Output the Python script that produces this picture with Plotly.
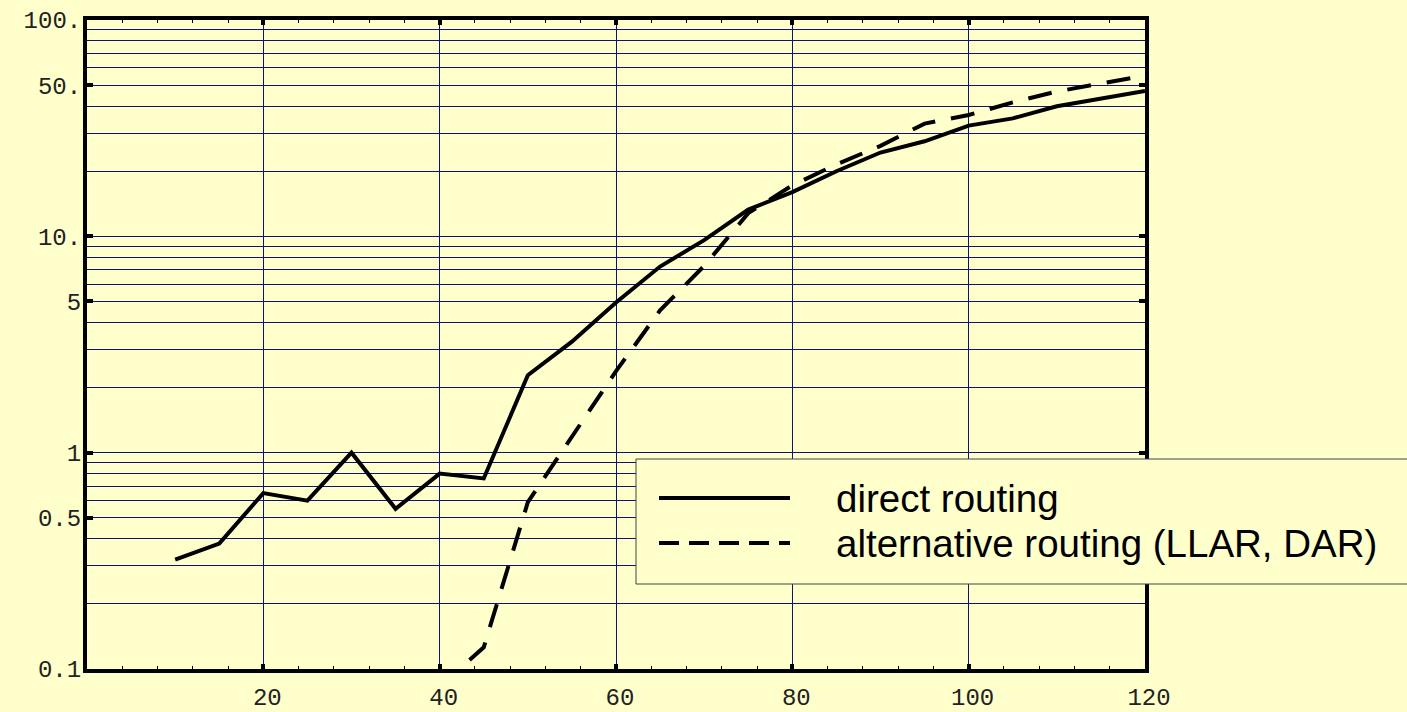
import plotly.graph_objects as go

# ---- data ----
x_direct = [10, 15, 20, 25, 30, 35, 40, 45, 50, 55, 60, 65, 70, 75, 80, 85, 90, 95, 100, 105, 110, 115, 120]
y_direct = [0.32, 0.38, 0.65, 0.60, 1.0, 0.55, 0.80, 0.76, 2.28, 3.26, 4.95, 7.25, 9.6, 13.3, 16.0, 20.0,
            24.4, 27.5, 32.5, 35.1, 39.9, 43.4, 47.0]

x_alt = [40, 45, 50, 55, 60, 65, 70, 75, 80, 85, 90, 95, 100, 105, 110, 115, 120]
y_alt = [0.083, 0.126, 0.59, 1.18, 2.38, 4.55, 7.3, 12.8, 17.2, 21.5, 26.2, 33.2, 36.4, 41.6, 46.7, 50.9, 55.3]

series_names = ["direct routing", "alternative routing (LLAR, DAR)"]

x_ticks = [20, 40, 60, 80, 100, 120]
x_ticktext = ["20", "40", "60", "80", "100", "120"]
y_ticks = [0.1, 0.5, 1, 5, 10, 50, 100]
y_ticktext = ["0.1", "0.5", "1", "5", "10.", "50.", "100."]
y_minor = [m * d for d in (0.1, 1, 10) for m in (2, 3, 4, 6, 7, 8, 9)]

BG = "#FFFFCC"
GRID = "#10107a"
TICKFONT = dict(family="Liberation Mono, DejaVu Sans Mono, monospace", size=24, color="#222222")

fig = go.Figure()
fig.add_trace(go.Scatter(x=x_direct, y=y_direct, mode="lines", name=series_names[0],
                         line=dict(color="black", width=4), showlegend=False))
fig.add_trace(go.Scatter(x=x_alt, y=y_alt, mode="lines", name=series_names[1],
                         line=dict(color="black", width=4, dash="24px,16px"), showlegend=False))

L, R, T, B = 87, 262, 20, 43
W, H = 1407, 712
pw, ph = W - L - R, H - T - B


def px(xp):
    return (xp - L) / pw


def py(yp):
    return (H - B - yp) / ph


# legend drawn manually
fig.add_shape(type="rect", xref="paper", yref="paper", x0=px(636), x1=px(1460), y0=py(584), y1=py(459),
              line=dict(color="#444444", width=1), fillcolor=BG, layer="above")
fig.add_shape(type="line", xref="paper", yref="paper", x0=px(659), x1=px(790), y0=py(498), y1=py(498),
              line=dict(color="black", width=4), layer="above")
fig.add_shape(type="line", xref="paper", yref="paper", x0=px(659), x1=px(790), y0=py(543), y1=py(543),
              line=dict(color="black", width=4, dash="20px,10px"), layer="above")
for name, yc in zip(series_names, (498, 543)):
    fig.add_annotation(text=name, xref="paper", yref="paper", x=px(834), y=py(yc), xanchor="left",
                       yanchor="middle", showarrow=False,
                       font=dict(family="Liberation Sans, Arial, sans-serif", size=38.5, color="black"))

fig.update_xaxes(range=[0, 120], tickmode="array", tickvals=x_ticks, ticktext=x_ticktext,
                 showline=True, linewidth=4, linecolor="black", mirror="ticks", automargin=False,
                 ticks="inside", ticklen=5, tickwidth=3.5, tickcolor="black",
                 showgrid=True, gridcolor=GRID, gridwidth=1, zeroline=False,
                 tickfont=TICKFONT, ticklabelshift=4, ticklabelstandoff=3,
                 minor=dict(tickmode="linear", tick0=0, dtick=4, ticks="inside", ticklen=3,
                            tickwidth=1, tickcolor="black", showgrid=False))
fig.update_yaxes(type="log", range=[-1, 2], tickmode="array", tickvals=y_ticks, ticktext=y_ticktext,
                 showline=True, linewidth=4, linecolor="black", mirror="ticks", automargin=False,
                 ticks="inside", ticklen=6, tickwidth=3.5, tickcolor="black",
                 showgrid=True, gridcolor=GRID, gridwidth=1, zeroline=False,
                 tickfont=TICKFONT, ticklabelstandoff=-3,
                 minor=dict(tickmode="array", tickvals=y_minor, ticks="", showgrid=True,
                            gridcolor=GRID, gridwidth=1))

fig.update_layout(width=W, height=H, margin=dict(l=L, r=R, t=T, b=B, pad=0, autoexpand=False),
                  paper_bgcolor=BG, plot_bgcolor=BG, showlegend=False)

fig.write_html("out.html", config={"displayModeBar": False},
               post_script=("document.body.style.margin='0';document.body.style.overflow='hidden';"
                            "document.body.style.background='" + BG + "';"))
